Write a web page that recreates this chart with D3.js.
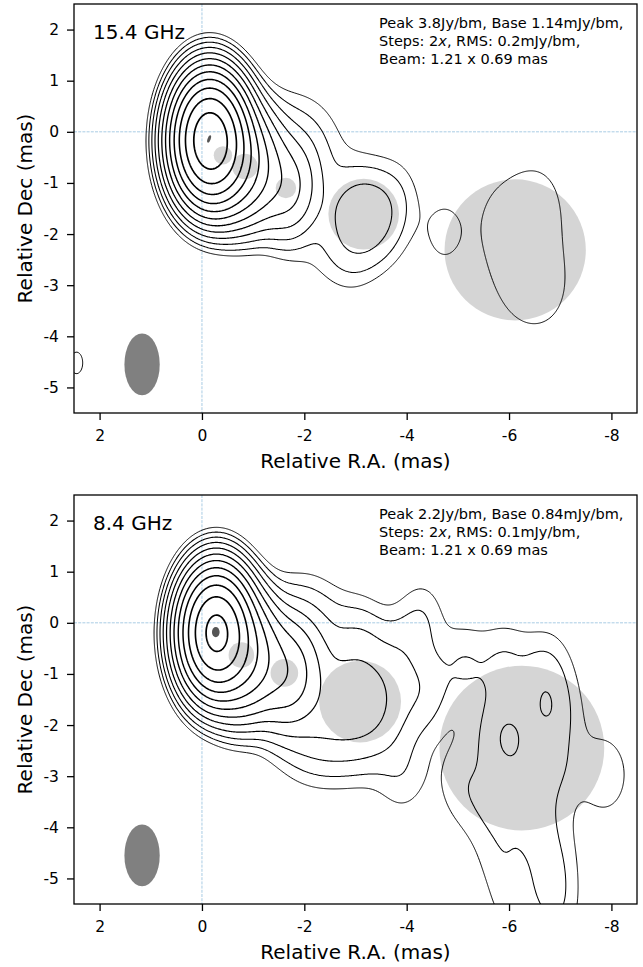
<!DOCTYPE html>
<html>
<head>
<meta charset="utf-8">
<script src="https://cdn.jsdelivr.net/npm/d3@7"></script>
<style>
  body { margin: 0; background: #fff; }
  svg { display: block; }
  text { font-family: "DejaVu Sans", sans-serif; fill: #000; }
</style>
</head>
<body>
<script>
// ---- restoring beam (mas) and its drawn position ----
const beamMaj = 1.21, beamMin = 0.69;
const beamPos = [1.17, -4.55];

// ---- axes ----
const xTicks = [2, 0, -2, -4, -6, -8];
const yTicks = [2, 1, 0, -1, -2, -3, -4, -5];
const xDomain = [2.5, -8.5];
const yDomain = [2.5, -5.5];

// ---- 15.4 GHz ----
const hiName = "15.4 GHz";
const hiPeak = 3.8;      // Jy/beam
const hiBase = 1.14;     // mJy/beam, lowest contour
const hiRms = 0.2;       // mJy/beam
// model-fit components (grey circles): position (mas), FWHM diameter (mas)
const hiFitX = [-0.41, -0.84, -1.64, -3.16, -6.12];
const hiFitY = [-0.46, -0.68, -1.10, -1.61, -2.31];
const hiFitD = [0.36, 0.50, 0.40, 1.38, 2.76];
// compact core (dark ellipse): position, axes (mas), tilt (deg)
const hiCore = { x: -0.14, y: -0.14, w: 0.06, h: 0.15, tilt: 20 };
// clean model for the intensity map: position (mas), flux (mJy), size (mas)
const hiCleanX =    [-0.14, -0.17, -0.41, -0.84, -1.64, -1.8, -2.3, -2.9, -3.0, -3.4, -3.2, -3.85, -4.7, -6.0, -6.3, -6.55, -6.6, 2.45];
const hiCleanY =    [-0.14, -0.20, -0.46, -0.68, -1.10, -0.4, -2.2, -2.35, -1.62, -1.66, -1.6, -1.2, -1.98, -1.45, -2.4, -3.35, -1.3, -4.52];
const hiCleanFlux = [2600, 1400, 420, 150, 25, 10, 2, 1.7, 5, 5, 3, 1.0, 1.3, 3.8, 3.8, 3.8, 1.0, 1.24];
const hiCleanSize = [0.05, 0.35, 0.36, 0.50, 0.40, 1.2, 1.0, 0.5, 0.6, 0.6, 1.0, 0.3, 0, 1.5, 1.5, 1.5, 0.5, 0];

// ---- 8.4 GHz ----
const loName = "8.4 GHz";
const loPeak = 2.2;
const loBase = 0.84;
const loRms = 0.1;
const loFitX = [-0.77, -1.61, -3.09, -6.25];
const loFitY = [-0.63, -0.98, -1.54, -2.45];
const loFitD = [0.50, 0.54, 1.60, 3.22];
const loCore = { x: -0.27, y: -0.18, w: 0.15, h: 0.20, tilt: 0 };
const loCleanX = [-0.27, -0.30, -0.77, -1.61, -3.09, -2.0, -2.2, -3.1, -3.9, -4.3, -4.35,
                  -5.1, -5.9, -6.7, -6.9, -7.9, -3.9, -5.1,
                  -5.8, -6.3, -6.6, -6.85, -6.9, -6.95,
                  -5.6, -5.85, -6.05, -6.72, -6.01, -6.25];
const loCleanY = [-0.18, -0.22, -0.63, -0.98, -1.54, -0.2, -1.9, -0.3, -0.5, 0.1, -1.3,
                  -0.8, -0.8, -0.9, -1.8, -3.0, -3.0, -3.2,
                  -2.2, -3.1, -4.0, -4.8, -5.6, -2.8,
                  -3.7, -4.6, -5.5, -1.63, -2.22, -2.45];
const loCleanFlux = [1500, 700, 300, 60, 26, 8, 10, 2, 1.5, 1.4, 1.8,
                     1.6, 1.6, 1.6, 1.0, 1.2, 1.2, 1.0,
                     1.6, 1.6, 1.5, 1.5, 1.6, 1.0,
                     1.1, 1.1, 1.1, 1.5, 1.6, 10];
const loCleanSize = [0.05, 0.35, 0.5, 0.54, 1.2, 1.0, 1.0, 0.4, 0.3, 0.2, 0.2,
                     0.4, 0.4, 0.4, 0.4, 0.3, 0.4, 0.4,
                     0.6, 0.6, 0.5, 0.4, 0.4, 0.4,
                     0.4, 0.4, 0.4, 0, 0, 3.22];

const panels = [
  { name: hiName, peak: hiPeak, base: hiBase, rms: hiRms, fitX: hiFitX, fitY: hiFitY, fitD: hiFitD, core: hiCore,
    cx: hiCleanX, cy: hiCleanY, cf: hiCleanFlux, cs: hiCleanSize, top: 4 },
  { name: loName, peak: loPeak, base: loBase, rms: loRms, fitX: loFitX, fitY: loFitY, fitD: loFitD, core: loCore,
    cx: loCleanX, cy: loCleanY, cf: loCleanFlux, cs: loCleanSize, top: 495 }
];

// ---- layout ----
const W = 643, H = 967;
const plotLeft = 74, plotRight = 637, plotH = 409;

// intensity grid (mas), slightly larger than the plotted window
const step = 0.02;
const gx0 = 2.7, gx1 = -8.7, gy0 = 2.7, gy1 = -5.7;
const nx = Math.round((gx0 - gx1) / step) + 1;
const ny = Math.round((gy0 - gy1) / step) + 1;

// clean components convolved with the restoring beam
function intensity(cx, cy, cf, cs) {
  const v = new Float64Array(nx * ny);
  const gxs = d3.range(nx).map(i => gx0 - i * step);
  const gys = d3.range(ny).map(j => gy0 - j * step);
  for (let k = 0; k < cx.length; k++) {
    const d2 = cs[k] * cs[k];
    const fx2 = beamMin * beamMin + d2, fy2 = beamMaj * beamMaj + d2;
    const pk = cf[k] * beamMaj * beamMin / Math.sqrt(fx2 * fy2);
    const ax = 4 * Math.LN2 / fx2, ay = 4 * Math.LN2 / fy2;
    const ex = gxs.map(g => Math.exp(-ax * (g - cx[k]) ** 2));
    for (let j = 0; j < ny; j++) {
      const e = pk * Math.exp(-ay * (gys[j] - cy[k]) ** 2);
      if (e < 1e-7) continue;
      const o = j * nx;
      for (let i = 0; i < nx; i++) v[o + i] += e * ex[i];
    }
  }
  return v;
}

const svg = d3.select("body").append("svg").attr("width", W).attr("height", H);

panels.forEach((p, pi) => {
  const top = p.top, bottom = top + plotH;
  const x = d3.scaleLinear().domain(xDomain).range([plotLeft, plotRight]);
  const y = d3.scaleLinear().domain(yDomain).range([top, bottom]);
  const g = svg.append("g");
  const clipId = "clip" + pi;
  g.append("clipPath").attr("id", clipId).append("rect")
    .attr("x", plotLeft).attr("y", top).attr("width", plotRight - plotLeft).attr("height", plotH);
  const inner = g.append("g").attr("clip-path", `url(#${clipId})`);

  // reference cross at the map origin
  inner.append("line").attr("x1", x(0)).attr("x2", x(0)).attr("y1", top).attr("y2", bottom)
    .attr("stroke", "#a9cce4").attr("stroke-width", 1).attr("stroke-dasharray", "3,1.2");
  inner.append("line").attr("x1", plotLeft).attr("x2", plotRight).attr("y1", y(0)).attr("y2", y(0))
    .attr("stroke", "#a9cce4").attr("stroke-width", 1).attr("stroke-dasharray", "3,1.2");

  // model-fit components
  const sx = Math.abs(x(1) - x(0)), sy = Math.abs(y(1) - y(0));
  inner.selectAll("ellipse.fit").data(d3.range(p.fitX.length)).join("ellipse")
    .attr("class", "fit")
    .attr("cx", i => x(p.fitX[i])).attr("cy", i => y(p.fitY[i]))
    .attr("rx", i => p.fitD[i] / 2 * sx).attr("ry", i => p.fitD[i] / 2 * sy)
    .attr("fill", "#d5d5d5");

  // contours: base * 2^k up to the peak
  const levels = d3.range(0, 20).map(k => p.base * 2 ** k).filter(l => l < p.peak * 1000);
  const field = intensity(p.cx, p.cy, p.cf, p.cs);
  const conts = d3.contours().size([nx, ny]).thresholds(levels)(field);
  const proj = d3.geoTransform({
    point(c, r) { this.stream.point(x(gx0 - (c - 0.5) * step), y(gy0 - (r - 0.5) * step)); }
  });
  const path = d3.geoPath(proj);
  const lw = d3.scaleLinear().domain([0, levels.length - 1]).range([0.95, 1.7]);
  inner.selectAll("path.cont").data(conts).join("path")
    .attr("class", "cont")
    .attr("d", path)
    .attr("fill", "none").attr("stroke", "#000")
    .attr("stroke-width", (d, i) => lw(i)).attr("stroke-linejoin", "round");

  // compact core
  inner.append("ellipse")
    .attr("cx", x(p.core.x)).attr("cy", y(p.core.y))
    .attr("rx", p.core.w / 2 * sx).attr("ry", p.core.h / 2 * sy)
    .attr("transform", `rotate(${p.core.tilt},${x(p.core.x)},${y(p.core.y)})`)
    .attr("fill", "#555");

  // restoring beam
  inner.append("ellipse")
    .attr("cx", x(beamPos[0])).attr("cy", y(beamPos[1]))
    .attr("rx", beamMin / 2 * sx).attr("ry", beamMaj / 2 * sy)
    .attr("fill", "#808080");

  // frame
  g.append("rect").attr("x", plotLeft).attr("y", top).attr("width", plotRight - plotLeft).attr("height", plotH)
    .attr("fill", "none").attr("stroke", "#000").attr("stroke-width", 1.3);

  // axes
  const ax = g.append("g").attr("transform", `translate(0,${bottom})`)
    .call(d3.axisBottom(x).tickValues(xTicks).tickFormat(d => String(d)).tickSize(7).tickPadding(10));
  const ay = g.append("g").attr("transform", `translate(${plotLeft},0)`)
    .call(d3.axisLeft(y).tickValues(yTicks).tickFormat(d => String(d)).tickSize(7).tickPadding(8));
  [ax, ay].forEach(a => {
    a.select(".domain").remove();
    a.selectAll(".tick line").attr("stroke", "#000").attr("stroke-width", 1.3);
    a.selectAll(".tick text").attr("font-size", 15.5).attr("font-family", "DejaVu Sans");
  });

  // axis titles
  g.append("text").attr("x", (plotLeft + plotRight) / 2).attr("y", bottom + 55)
    .attr("text-anchor", "middle").attr("font-size", 20).text("Relative R.A. (mas)");
  g.append("text").attr("transform", `translate(32,${(top + bottom) / 2}) rotate(-90)`)
    .attr("text-anchor", "middle").attr("font-size", 20).text("Relative Dec (mas)");

  // frequency label
  g.append("text").attr("x", 93).attr("y", top + 35).attr("font-size", 20).text(p.name);

  // map annotation
  const ann = g.append("text").attr("font-size", 14.5);
  ann.append("tspan").attr("x", 379).attr("y", top + 24.3)
    .text(`Peak ${p.peak}Jy/bm, Base ${p.base}mJy/bm,`);
  const l2 = ann.append("tspan").attr("x", 379).attr("y", top + 42);
  l2.append("tspan").text("Steps: 2");
  l2.append("tspan").attr("font-style", "italic").text("x");
  l2.append("tspan").text(`, RMS: ${p.rms}mJy/bm,`);
  ann.append("tspan").attr("x", 379).attr("y", top + 60)
    .text(`Beam: ${beamMaj} x ${beamMin} mas`);
});
</script>
</body>
</html>
